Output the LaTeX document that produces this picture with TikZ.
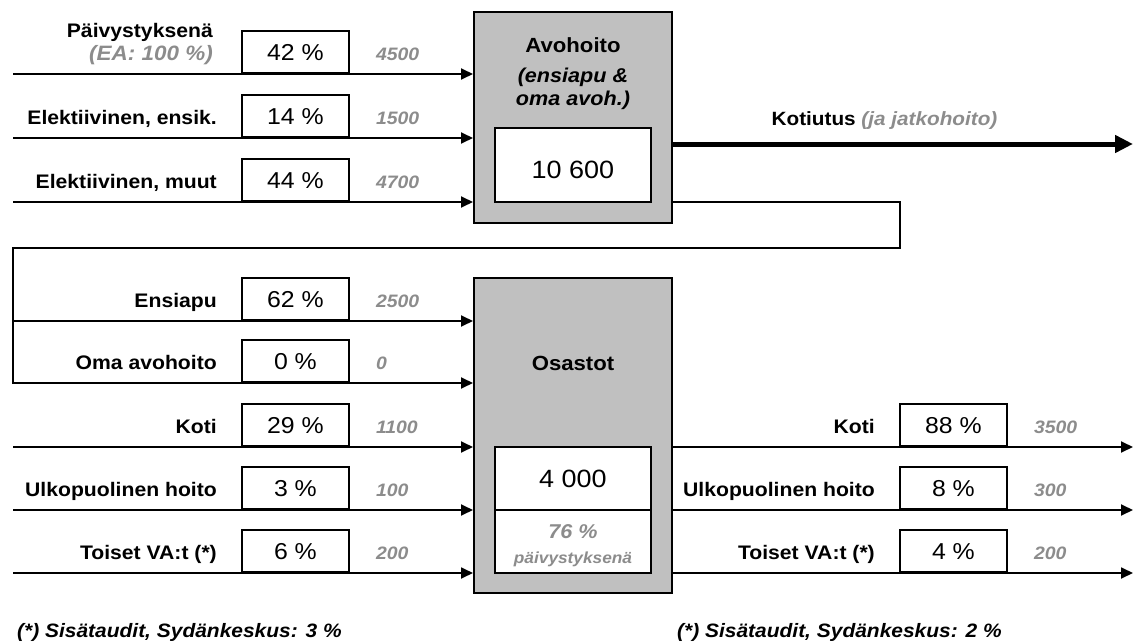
\documentclass[tikz,border=0pt]{standalone}
\usepackage{fontspec}
\setmainfont[FakeStretch=1.08]{Liberation Sans}
\usepackage{tikz}
\usetikzlibrary{arrows.meta, positioning, calc}
\definecolor{boxgray}{RGB}{192,192,192}
\definecolor{numgray}{RGB}{140,140,140}

\begin{document}
\begin{tikzpicture}[
    x=1pt, y=-1pt,
    node distance=24pt,
    unit/.style={rectangle, draw, line width=2pt, fill=boxgray, minimum width=198pt, inner sep=0pt},
    valbox/.style={rectangle, draw, line width=1.8pt, fill=white, minimum width=156pt,
                   minimum height=63pt, inner sep=0pt, outer sep=0pt},
    pct/.style={rectangle, draw, line width=1.8pt, minimum width=107pt, minimum height=42pt,
                inner sep=0pt, font=\fontsize{23}{23}\selectfont},
    lbl/.style={inner sep=0pt, font=\fontsize{19.6}{23}\selectfont\bfseries},
    num/.style={inner sep=0pt, text=numgray, font=\fontsize{18}{18}\selectfont\bfseries\itshape},
    title/.style={inner sep=0pt, anchor=base, font=\fontsize{20.5}{24}\selectfont\bfseries},
    foot/.style={inner sep=0pt, anchor=base west, font=\fontsize{19.4}{19.4}\selectfont\bfseries\itshape},
    flow/.style={-{Triangle[length=12pt, width=11pt]}, line width=1.8pt},
    outflow/.style={-{Triangle[length=18pt, width=17pt]}, line width=5pt}
]
\useasboundingbox (0,0) rectangle (1136,642);

% Avohoito
\node[unit, minimum height=211pt] (avo) at (573,117.5) {};
\node[title] (avot) at (573,53) {Avohoito};
\node[title, font=\fontsize{20}{24}\selectfont\bfseries\itshape] at (573,83) {(ensiapu \&};
\node[title, font=\fontsize{20}{24}\selectfont\bfseries\itshape] at (573,106) {oma avoh.)};
\node[valbox, minimum height=74pt] (aval) at (573,165) {};
\node[title, font=\fontsize{25}{25}\selectfont] at (573,178) {10 600};

% Osastot
\node[unit, minimum height=315pt] (osa) at (573,435.5) {};
\node[title] at (573,370) {Osastot};
\node[valbox, font=\fontsize{25}{25}\selectfont] (oval) at (573,478.5) {4 000};
\node[valbox, below=0pt of oval] (oday) {};
\node[title, text=numgray, font=\fontsize{20}{20}\selectfont\bfseries\itshape] at (573,538) {76 \%};
\node[title, text=numgray, font=\fontsize{16}{16}\selectfont\bfseries\itshape] at (573,563) {päivystyksenä};

% tulot avohoitoon
\coordinate (in1) at (13,74);
\coordinate (in2) at (13,138);
\coordinate (in3) at (13,202);
\node[pct, anchor=south west] (pday) at (241,74) {42 \%};
\node[pct, anchor=south west] (pele) at (241,138) {14 \%};
\node[pct, anchor=south west] (poth) at (241,202) {44 \%};
\node[lbl, text=numgray, font=\fontsize{20.8}{23}\selectfont\bfseries\itshape, base left=28pt of pday] (lea) {(EA: 100 \%)};
\node[lbl, anchor=base east, yshift=23pt] at (lea.base east) {Päivystyksenä};
\node[lbl, base left=of pele] {Elektiivinen, ensik.};
\node[lbl, base left=of poth] {Elektiivinen, muut};
\node[num, base right=26pt of pday] {4500};
\node[num, base right=26pt of pele] {1500};
\node[num, base right=26pt of poth] {4700};
\draw[flow] (in1) -- (in1 -| avo.west);
\draw[flow] (in2) -- (in2 -| avo.west);
\draw[flow] (in3) -- (in3 -| avo.west);

% kotiutus
\coordinate (home) at (1133,144);
\draw[outflow] (home -| avo.east) -- (home);
\node[lbl, anchor=base, font=\fontsize{19.2}{19.2}\selectfont\bfseries] at (884.5,125)
    {Kotiutus {\color{numgray}\itshape (ja jatkohoito)}};

% tulot osastoille
\coordinate (turn) at (900,248);
\coordinate (back) at (13,248);
\coordinate (in4) at (13,321);
\coordinate (in5) at (13,383);
\coordinate (in6) at (13,447);
\coordinate (in7) at (13,510);
\coordinate (in8) at (13,573);
\node[pct, anchor=south west] (pfirst) at (241,321) {62 \%};
\node[pct, anchor=south west] (pown) at (241,383) {0 \%};
\node[pct, anchor=south west] (phome) at (241,447) {29 \%};
\node[pct, anchor=south west] (pext) at (241,510) {3 \%};
\node[pct, anchor=south west] (pva) at (241,573) {6 \%};
\node[lbl, base left=of pfirst] {Ensiapu};
\node[lbl, base left=of pown] {Oma avohoito};
\node[lbl, base left=of phome] {Koti};
\node[lbl, base left=of pext] {Ulkopuolinen hoito};
\node[lbl, base left=of pva] {Toiset VA:t (*)};
\node[num, base right=26pt of pfirst] {2500};
\node[num, base right=26pt of pown] {0};
\node[num, base right=26pt of phome] {1100};
\node[num, base right=26pt of pext] {100};
\node[num, base right=26pt of pva] {200};
\draw[flow] (avo.east |- aval.south) -| (turn) -- (back) |- (in5 -| osa.west);
\draw[flow] (in4) -- (in4 -| osa.west);
\draw[flow] (in6) -- (in6 -| osa.west);
\draw[flow] (in7) -- (in7 -| osa.west);
\draw[flow] (in8) -- (in8 -| osa.west);

% lähdöt osastoilta
\coordinate (out1) at (1133,447);
\coordinate (out2) at (1133,510);
\coordinate (out3) at (1133,573);
\node[pct, anchor=south west] (qhome) at (899,447) {88 \%};
\node[pct, anchor=south west] (qext) at (899,510) {8 \%};
\node[pct, anchor=south west] (qva) at (899,573) {4 \%};
\node[lbl, base left=of qhome] {Koti};
\node[lbl, base left=of qext] {Ulkopuolinen hoito};
\node[lbl, base left=of qva] {Toiset VA:t (*)};
\node[num, base right=26pt of qhome] {3500};
\node[num, base right=26pt of qext] {300};
\node[num, base right=26pt of qva] {200};
\draw[flow] (out1 -| osa.east) -- (out1);
\draw[flow] (out2 -| osa.east) -- (out2);
\draw[flow] (out3 -| osa.east) -- (out3);

% alaviitteet
\node[foot] at (17,637) {(*) Sisätaudit, Sydänkeskus: 3 \%};
\node[foot] at (677,637) {(*) Sisätaudit, Sydänkeskus: 2 \%};
\end{tikzpicture}
\end{document}
